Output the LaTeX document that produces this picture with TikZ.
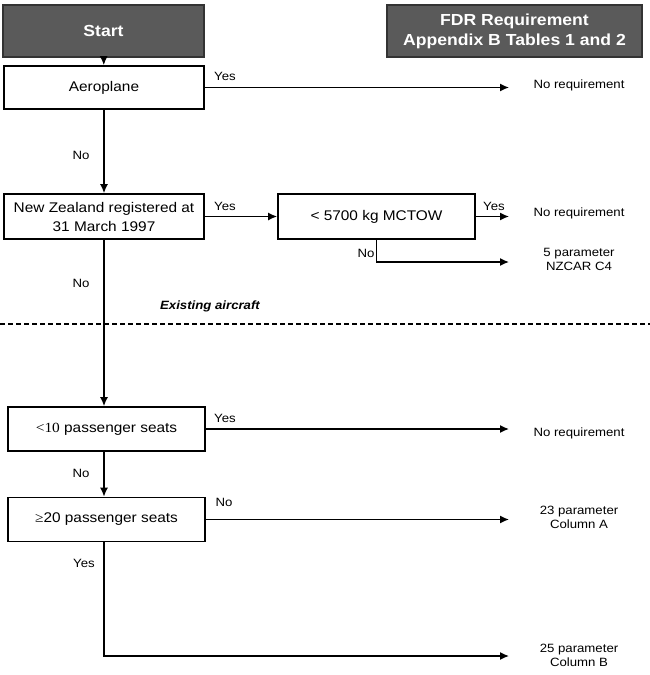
\documentclass[tikz,border=0pt]{standalone}
\usepackage{fontspec}
\setmainfont{Liberation Sans}[FakeStretch=1.1]
\newfontfamily\symfont{Liberation Serif}[FakeStretch=1.1]
\usetikzlibrary{arrows.meta,positioning}
\definecolor{headgray}{HTML}{5A5A5A}

\begin{document}
\begin{tikzpicture}[x=1pt,y=-1pt,
    box/.style={draw,line width=1.7pt,minimum width=200pt,minimum height=44pt,inner sep=1pt,align=center,font=\fontsize{14}{19}\selectfont},
    head/.style={draw=black!80,fill=headgray,line width=1.7pt,text=white,align=center,minimum height=52pt,font=\bfseries\fontsize{16}{20}\selectfont},
    lbl/.style={inner sep=0pt,font=\fontsize{12}{14}\selectfont},
    outcome/.style={inner sep=0pt,align=center,font=\fontsize{12}{14}\selectfont},
    link/.style={->,line width=1.4pt},
    >={Latex[length=9pt,width=8pt]}]
          \useasboundingbox (0,0) rectangle (650,675);

          \node[head,minimum width=201pt] (start) at (103.5,31) {Start};
          \node[head,minimum width=255pt] (fdr) at (514.5,31) {FDR Requirement\\Appendix B Tables 1 and 2};

          \node[box,minimum height=43pt] (aero) at (104,87.5) {Aeroplane};
          \node[box,minimum height=45pt] (nz) at (104,216.5) {New Zealand registered at\\31 March 1997};
          \node[box,minimum width=197pt,minimum height=45pt] (mctow) at (376.5,216.5) {< 5700 kg MCTOW};
          \node[box,minimum width=197pt] (seatsa) at (106.5,429) {{\symfont<10} passenger seats};
          \node[box,minimum width=197pt] (seatsb) at (106.5,519.5) {{\symfont ≥}20 passenger seats};

          \node[outcome] (nreqa) at (579,85) {No requirement};
          \node[outcome] (nreqb) at (579,213) {No requirement};
          \node[outcome] (fivep) at (579,259) {5 parameter\\NZCAR C4};
          \node[outcome] (nreqc) at (579,433) {No requirement};
          \node[outcome] (cola) at (579,517) {23 parameter\\Column A};
          \node[outcome] (colb) at (579,655) {25 parameter\\Column B};

          \coordinate (tip) at (509,656);

          \draw[link] (start) -- (aero);
          \draw[link] (aero) -- (nz);
          \draw[link] (nz.south) -- (nz.south |- seatsa.north);
          \draw[link] (seatsa.south -| nz.south) -- (nz.south |- seatsb.north);
          \draw[link] (seatsb.south -| nz.south) |- (tip);

          \draw[link] (aero.east) -- (aero.east -| tip);
          \draw[link] (nz) -- (mctow);
          \draw[link] (mctow.east) -- (mctow.east -| tip);
          \draw[link] (mctow.south) |- (tip |- 0,262);
          \draw[link] (seatsa.east) -- (seatsa.east -| tip);
          \draw[link] (seatsb.east) -- (seatsb.east -| tip);

          \node[lbl] (yesa) at (225,76) {Yes};
          \node[lbl] (noa) at (81,155) {No};
          \node[lbl] (yesb) at (225,206) {Yes};
          \node[lbl] (yesc) at (494,206) {Yes};
          \node[lbl] (nob) at (366,253) {No};
          \node[lbl] (noc) at (81,283) {No};
          \node[lbl] (yesd) at (225,418) {Yes};
          \node[lbl] (nod) at (81,473) {No};
          \node[lbl] (noe) at (224,502) {No};
          \node[lbl] (yese) at (84,563) {Yes};

          \node[lbl,font=\bfseries\itshape\fontsize{12}{14}\selectfont] (exist) at (210,306) {Existing aircraft};
          \draw[line width=1.2pt,dash pattern=on 5pt off 3pt] (0,324) -- (650,324);
        \end{tikzpicture}
\end{document}
